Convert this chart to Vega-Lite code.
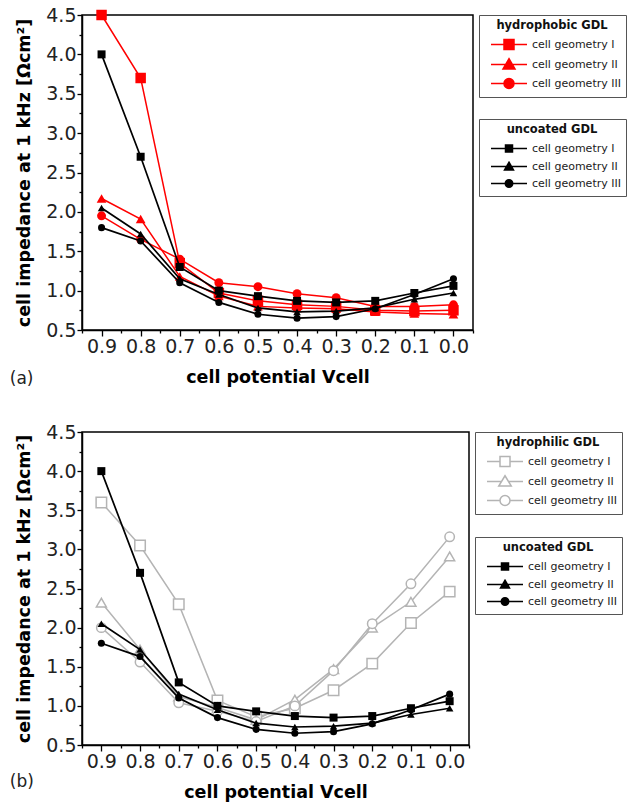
{
  "$schema": "https://vega.github.io/schema/vega-lite/v6.json",
  "padding": {"left": 9, "top": 5, "right": 0, "bottom": 0},
  "background": "white",
  "config": {
    "font": "DejaVu Sans",
    "view": {"stroke": "#000", "strokeWidth": 1.5},
    "axis": {"grid": false, "domainColor": "#000", "domainWidth": 1.5, "tickColor": "#000", "tickWidth": 1.3, "labelColor": "#222", "labelFont": "DejaVu Sans", "labelFontSize": 19, "titleFont": "DejaVu Sans", "titleFontSize": 17.5, "titleFontWeight": "bold", "titleColor": "#000"},
    "legend": {"labelFont": "DejaVu Sans", "labelFontSize": 11, "labelColor": "#222", "titleFont": "DejaVu Sans", "titleFontSize": 11.5, "titleFontWeight": "bold", "titleColor": "#111", "strokeColor": "#555", "padding": 5, "symbolSize": 100, "rowPadding": 3, "titlePadding": 7, "symbolOffset": 19, "labelOffset": 17, "titleAnchor": "middle", "symbolOpacity": 1},
    "title": {"font": "DejaVu Sans", "fontSize": 17, "fontWeight": "normal", "color": "#222"},
    "concat": {"spacing": 34}
  },
  "datasets": {
    "a_hpb": [
      {"s": "cell geometry I", "v": 0.9, "z": 4.5}, {"s": "cell geometry I", "v": 0.8, "z": 3.7}, {"s": "cell geometry I", "v": 0.7, "z": 1.35}, {"s": "cell geometry I", "v": 0.6, "z": 0.97}, {"s": "cell geometry I", "v": 0.5, "z": 0.87}, {"s": "cell geometry I", "v": 0.4, "z": 0.82}, {"s": "cell geometry I", "v": 0.3, "z": 0.8}, {"s": "cell geometry I", "v": 0.2, "z": 0.75}, {"s": "cell geometry I", "v": 0.1, "z": 0.74}, {"s": "cell geometry I", "v": 0.0, "z": 0.75},
      {"s": "cell geometry II", "v": 0.9, "z": 2.17}, {"s": "cell geometry II", "v": 0.8, "z": 1.91}, {"s": "cell geometry II", "v": 0.7, "z": 1.18}, {"s": "cell geometry II", "v": 0.6, "z": 0.93}, {"s": "cell geometry II", "v": 0.5, "z": 0.8}, {"s": "cell geometry II", "v": 0.4, "z": 0.78}, {"s": "cell geometry II", "v": 0.3, "z": 0.77}, {"s": "cell geometry II", "v": 0.2, "z": 0.73}, {"s": "cell geometry II", "v": 0.1, "z": 0.71}, {"s": "cell geometry II", "v": 0.0, "z": 0.7},
      {"s": "cell geometry III", "v": 0.9, "z": 1.95}, {"s": "cell geometry III", "v": 0.8, "z": 1.65}, {"s": "cell geometry III", "v": 0.7, "z": 1.4}, {"s": "cell geometry III", "v": 0.6, "z": 1.1}, {"s": "cell geometry III", "v": 0.5, "z": 1.05}, {"s": "cell geometry III", "v": 0.4, "z": 0.96}, {"s": "cell geometry III", "v": 0.3, "z": 0.91}, {"s": "cell geometry III", "v": 0.2, "z": 0.8}, {"s": "cell geometry III", "v": 0.1, "z": 0.8}, {"s": "cell geometry III", "v": 0.0, "z": 0.82}
    ],
    "unc": [
      {"s": "cell geometry I", "v": 0.9, "z": 4.0}, {"s": "cell geometry I", "v": 0.8, "z": 2.7}, {"s": "cell geometry I", "v": 0.7, "z": 1.3}, {"s": "cell geometry I", "v": 0.6, "z": 1.0}, {"s": "cell geometry I", "v": 0.5, "z": 0.93}, {"s": "cell geometry I", "v": 0.4, "z": 0.87}, {"s": "cell geometry I", "v": 0.3, "z": 0.85}, {"s": "cell geometry I", "v": 0.2, "z": 0.87}, {"s": "cell geometry I", "v": 0.1, "z": 0.97}, {"s": "cell geometry I", "v": 0.0, "z": 1.06},
      {"s": "cell geometry II", "v": 0.9, "z": 2.05}, {"s": "cell geometry II", "v": 0.8, "z": 1.72}, {"s": "cell geometry II", "v": 0.7, "z": 1.15}, {"s": "cell geometry II", "v": 0.6, "z": 0.95}, {"s": "cell geometry II", "v": 0.5, "z": 0.78}, {"s": "cell geometry II", "v": 0.4, "z": 0.73}, {"s": "cell geometry II", "v": 0.3, "z": 0.74}, {"s": "cell geometry II", "v": 0.2, "z": 0.78}, {"s": "cell geometry II", "v": 0.1, "z": 0.89}, {"s": "cell geometry II", "v": 0.0, "z": 0.97},
      {"s": "cell geometry III", "v": 0.9, "z": 1.8}, {"s": "cell geometry III", "v": 0.8, "z": 1.63}, {"s": "cell geometry III", "v": 0.7, "z": 1.1}, {"s": "cell geometry III", "v": 0.6, "z": 0.85}, {"s": "cell geometry III", "v": 0.5, "z": 0.7}, {"s": "cell geometry III", "v": 0.4, "z": 0.65}, {"s": "cell geometry III", "v": 0.3, "z": 0.67}, {"s": "cell geometry III", "v": 0.2, "z": 0.77}, {"s": "cell geometry III", "v": 0.1, "z": 0.95}, {"s": "cell geometry III", "v": 0.0, "z": 1.15}
    ],
    "b_hpl": [
      {"s": "cell geometry I", "v": 0.9, "z": 3.6}, {"s": "cell geometry I", "v": 0.8, "z": 3.05}, {"s": "cell geometry I", "v": 0.7, "z": 2.3}, {"s": "cell geometry I", "v": 0.6, "z": 1.07}, {"s": "cell geometry I", "v": 0.5, "z": 0.86}, {"s": "cell geometry I", "v": 0.4, "z": 0.97}, {"s": "cell geometry I", "v": 0.3, "z": 1.2}, {"s": "cell geometry I", "v": 0.2, "z": 1.54}, {"s": "cell geometry I", "v": 0.1, "z": 2.06}, {"s": "cell geometry I", "v": 0.0, "z": 2.46},
      {"s": "cell geometry II", "v": 0.9, "z": 2.32}, {"s": "cell geometry II", "v": 0.8, "z": 1.72}, {"s": "cell geometry II", "v": 0.7, "z": 1.12}, {"s": "cell geometry II", "v": 0.6, "z": 0.98}, {"s": "cell geometry II", "v": 0.5, "z": 0.82}, {"s": "cell geometry II", "v": 0.4, "z": 1.08}, {"s": "cell geometry II", "v": 0.3, "z": 1.47}, {"s": "cell geometry II", "v": 0.2, "z": 2.0}, {"s": "cell geometry II", "v": 0.1, "z": 2.33}, {"s": "cell geometry II", "v": 0.0, "z": 2.91},
      {"s": "cell geometry III", "v": 0.9, "z": 2.0}, {"s": "cell geometry III", "v": 0.8, "z": 1.56}, {"s": "cell geometry III", "v": 0.7, "z": 1.04}, {"s": "cell geometry III", "v": 0.6, "z": 0.93}, {"s": "cell geometry III", "v": 0.5, "z": 0.8}, {"s": "cell geometry III", "v": 0.4, "z": 1.0}, {"s": "cell geometry III", "v": 0.3, "z": 1.45}, {"s": "cell geometry III", "v": 0.2, "z": 2.05}, {"s": "cell geometry III", "v": 0.1, "z": 2.56}, {"s": "cell geometry III", "v": 0.0, "z": 3.16}
    ]
  },
  "vconcat": [
    {
      "width": 391, "height": 315,
      "title": {"text": "(a)", "orient": "bottom", "anchor": "start", "frame": "bounds", "offset": -15, "dx": -6},
      "encoding": {
        "x": {"field": "v", "type": "quantitative", "scale": {"domain": [-0.05, 0.95], "reverse": true, "nice": false, "zero": false},
          "axis": {"values": [0.95, 0.9, 0.85, 0.8, 0.75, 0.7, 0.65, 0.6, 0.55, 0.5, 0.45, 0.4, 0.35, 0.3, 0.25, 0.2, 0.15, 0.1, 0.05, 0, -0.05],
            "labelExpr": "abs(datum.value*10 - round(datum.value*10)) < 0.01 ? format(datum.value, '.1f') : ''",
            "tickSize": {"condition": {"test": "abs(datum.value*10 - round(datum.value*10)) < 0.01", "value": 6}, "value": 3},
            "labelOverlap": false, "labelFlush": false, "labelPadding": 1, "titlePadding": 12, "title": "cell potential Vcell"}},
        "y": {"field": "z", "type": "quantitative", "scale": {"domain": [0.5, 4.5], "nice": false, "zero": false},
          "axis": {"values": [0.5, 0.75, 1, 1.25, 1.5, 1.75, 2, 2.25, 2.5, 2.75, 3, 3.25, 3.5, 3.75, 4, 4.25, 4.5],
            "labelExpr": "abs(datum.value*2 - round(datum.value*2)) < 0.01 ? format(datum.value, '.1f') : ''",
            "tickSize": {"condition": {"test": "abs(datum.value*2 - round(datum.value*2)) < 0.01", "value": 5}, "value": 3},
            "labelOverlap": false, "labelFlush": false, "labelPadding": 1, "titlePadding": 12, "title": "cell impedance at 1 kHz [Ωcm²]"}}
      },
      "layer": [
        {
          "data": {"name": "a_hpb"},
          "layer": [
            {"mark": {"type": "line", "color": "#ff0000", "strokeWidth": 1.5}, "encoding": {"detail": {"field": "s"}}},
            {"mark": {"type": "point", "filled": true, "color": "#ff0000", "opacity": 1},
              "encoding": {
                "shape": {"field": "s", "type": "nominal", "scale": {"domain": ["cell geometry III", "cell geometry II", "cell geometry I"], "range": ["circle", "triangle-up", "square"]}, "legend": null},
                "size": {"field": "s", "type": "ordinal", "scale": {"domain": ["cell geometry III", "cell geometry II", "cell geometry I"], "range": [80, 110, 100]}, "legend": null}
              }},
            {"transform": [{"filter": "false"}],
              "mark": {"type": "point", "filled": true, "color": "#ff0000", "stroke": "#ff0000", "strokeWidth": 1.5},
              "encoding": {
                "shape": {"field": "s", "type": "nominal", "scale": {"domain": ["cell geometry I", "cell geometry II", "cell geometry III"], "range": ["M-3.6,0H3.6M-1,-1H1V1H-1Z", "M-3.6,0H3.6M0,-1.15L1.2,0.9L-1.2,0.9Z", "M-3.6,0H3.6M-1,0A1,1 0 1,0 1,0A1,1 0 1,0 -1,0Z"]},
                  "legend": {"title": "hydrophobic GDL", "orient": "none", "legendX": 397, "legendY": 0}}
              }}
          ],
          "resolve": {"scale": {"shape": "independent"}}
        },
        {
          "data": {"name": "unc"},
          "layer": [
            {"mark": {"type": "line", "color": "#000", "strokeWidth": 1.7}, "encoding": {"detail": {"field": "s"}}},
            {"mark": {"type": "point", "filled": true, "color": "#000", "opacity": 1},
              "encoding": {
                "shape": {"field": "s", "type": "nominal", "scale": {"domain": ["cell geometry III", "cell geometry II", "cell geometry I"], "range": ["circle", "triangle-up", "square"]}, "legend": null},
                "size": {"field": "s", "type": "ordinal", "scale": {"domain": ["cell geometry III", "cell geometry II", "cell geometry I"], "range": [50, 64, 49]}, "legend": null}
              }},
            {"transform": [{"filter": "false"}],
              "mark": {"type": "point", "filled": true, "color": "#000", "stroke": "#000", "strokeWidth": 1.7},
              "encoding": {
                "shape": {"field": "s", "type": "nominal", "scale": {"domain": ["cell geometry I", "cell geometry II", "cell geometry III"], "range": ["M-3.6,0H3.6M-0.7,-0.7H0.7V0.7H-0.7Z", "M-3.6,0H3.6M0,-0.85L0.9,0.7L-0.9,0.7Z", "M-3.6,0H3.6M-0.75,0A0.75,0.75 0 1,0 0.75,0A0.75,0.75 0 1,0 -0.75,0Z"]},
                  "legend": {"title": "uncoated GDL", "orient": "none", "legendX": 397, "legendY": 104}}
              }}
          ],
          "resolve": {"scale": {"shape": "independent"}}
        }
      ],
      "resolve": {"scale": {"shape": "independent", "size": "independent"}}
    },
    {
      "width": 387, "height": 313,
      "title": {"text": "(b)", "orient": "bottom", "anchor": "start", "frame": "bounds", "offset": -27, "dx": -6},
      "encoding": {
        "x": {"field": "v", "type": "quantitative", "scale": {"domain": [-0.05, 0.95], "reverse": true, "nice": false, "zero": false},
          "axis": {"values": [0.95, 0.9, 0.85, 0.8, 0.75, 0.7, 0.65, 0.6, 0.55, 0.5, 0.45, 0.4, 0.35, 0.3, 0.25, 0.2, 0.15, 0.1, 0.05, 0, -0.05],
            "labelExpr": "abs(datum.value*10 - round(datum.value*10)) < 0.01 ? format(datum.value, '.1f') : ''",
            "tickSize": {"condition": {"test": "abs(datum.value*10 - round(datum.value*10)) < 0.01", "value": 6}, "value": 3},
            "labelOverlap": false, "labelFlush": false, "labelPadding": 1, "titlePadding": 12, "title": "cell potential Vcell"}},
        "y": {"field": "z", "type": "quantitative", "scale": {"domain": [0.5, 4.5], "nice": false, "zero": false},
          "axis": {"values": [0.5, 0.75, 1, 1.25, 1.5, 1.75, 2, 2.25, 2.5, 2.75, 3, 3.25, 3.5, 3.75, 4, 4.25, 4.5],
            "labelExpr": "abs(datum.value*2 - round(datum.value*2)) < 0.01 ? format(datum.value, '.1f') : ''",
            "tickSize": {"condition": {"test": "abs(datum.value*2 - round(datum.value*2)) < 0.01", "value": 5}, "value": 3},
            "labelOverlap": false, "labelFlush": false, "labelPadding": 1, "titlePadding": 12, "title": "cell impedance at 1 kHz [Ωcm²]"}}
      },
      "layer": [
        {
          "data": {"name": "b_hpl"},
          "layer": [
            {"mark": {"type": "line", "color": "#b4b4b4", "strokeWidth": 1.5}, "encoding": {"detail": {"field": "s"}}},
            {"mark": {"type": "point", "filled": true, "fill": "#fff", "stroke": "#b4b4b4", "strokeWidth": 1.5, "opacity": 1},
              "encoding": {
                "shape": {"field": "s", "type": "nominal", "scale": {"domain": ["cell geometry III", "cell geometry II", "cell geometry I"], "range": ["circle", "triangle-up", "square"]}, "legend": null},
                "size": {"field": "s", "type": "ordinal", "scale": {"domain": ["cell geometry III", "cell geometry II", "cell geometry I"], "range": [90, 110, 100]}, "legend": null}
              }},
            {"transform": [{"filter": "false"}],
              "mark": {"type": "point", "filled": true, "fill": "#fff", "stroke": "#b4b4b4", "strokeWidth": 1.5},
              "encoding": {
                "shape": {"field": "s", "type": "nominal", "scale": {"domain": ["cell geometry I", "cell geometry II", "cell geometry III"], "range": ["M-3.6,0H-1M1,0H3.6M-1,-1H1V1H-1Z", "M-3.6,0H-0.7M0.7,0H3.6M0,-1.15L1.25,0.9L-1.25,0.9Z", "M-3.6,0H-1M1,0H3.6M-1,0A1,1 0 1,0 1,0A1,1 0 1,0 -1,0Z"]},
                  "legend": {"title": "hydrophilic GDL", "orient": "none", "legendX": 393, "legendY": 0}}
              }}
          ],
          "resolve": {"scale": {"shape": "independent"}}
        },
        {
          "data": {"name": "unc"},
          "layer": [
            {"mark": {"type": "line", "color": "#000", "strokeWidth": 1.7}, "encoding": {"detail": {"field": "s"}}},
            {"mark": {"type": "point", "filled": true, "color": "#000", "opacity": 1},
              "encoding": {
                "shape": {"field": "s", "type": "nominal", "scale": {"domain": ["cell geometry III", "cell geometry II", "cell geometry I"], "range": ["circle", "triangle-up", "square"]}, "legend": null},
                "size": {"field": "s", "type": "ordinal", "scale": {"domain": ["cell geometry III", "cell geometry II", "cell geometry I"], "range": [50, 64, 49]}, "legend": null}
              }},
            {"transform": [{"filter": "false"}],
              "mark": {"type": "point", "filled": true, "color": "#000", "stroke": "#000", "strokeWidth": 1.7},
              "encoding": {
                "shape": {"field": "s", "type": "nominal", "scale": {"domain": ["cell geometry I", "cell geometry II", "cell geometry III"], "range": ["M-3.6,0H3.6M-0.7,-0.7H0.7V0.7H-0.7Z", "M-3.6,0H3.6M0,-0.85L0.9,0.7L-0.9,0.7Z", "M-3.6,0H3.6M-0.75,0A0.75,0.75 0 1,0 0.75,0A0.75,0.75 0 1,0 -0.75,0Z"]},
                  "legend": {"title": "uncoated GDL", "orient": "none", "legendX": 393, "legendY": 105}}
              }}
          ],
          "resolve": {"scale": {"shape": "independent"}}
        }
      ],
      "resolve": {"scale": {"shape": "independent", "size": "independent"}}
    }
  ]
}
